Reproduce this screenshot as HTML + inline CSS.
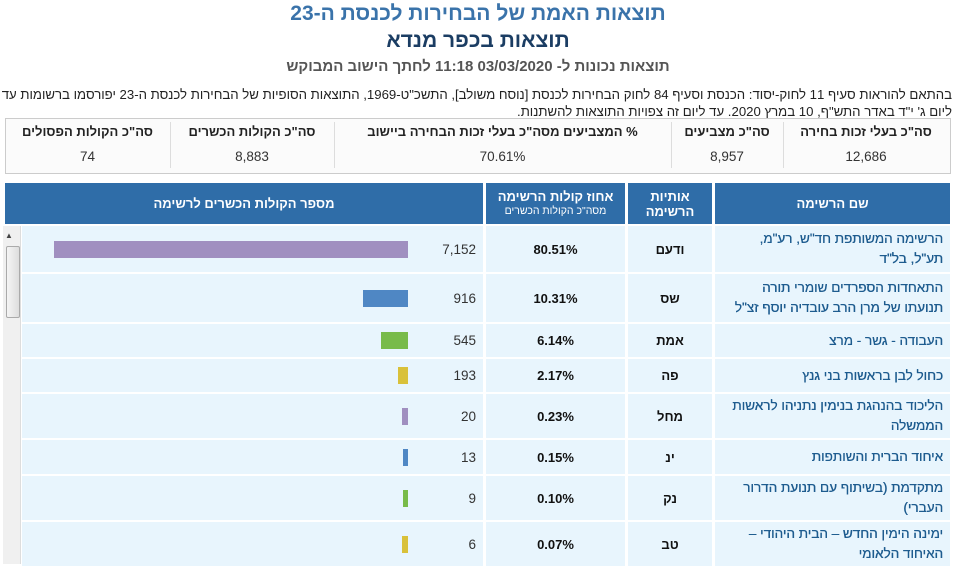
<!DOCTYPE html>
<html><head><meta charset="utf-8"><style>
body{margin:0;width:956px;height:564px;overflow:hidden;background:#fff;font-family:"Liberation Sans","Noto Sans CJK SC",sans-serif;position:relative}
.a{position:absolute}
.t1{left:0;width:956px;top:2px;text-align:center;font-size:21px;font-weight:bold;color:#3a73aa}
.t2{left:0;width:956px;top:29px;text-align:center;font-size:21px;font-weight:bold;color:#1b3d63}
.t3{left:0;width:956px;top:58px;text-align:center;font-size:15px;font-weight:bold;color:#555}
.p{right:4px;top:86px;width:952px;direction:rtl;font-size:13.2px;line-height:17px;color:#222}
.box{left:5px;top:118px;width:944px;height:54px;border:1px solid #ccc;background:#fbfbfb}
.sh{font-size:13px;font-weight:bold;color:#222;text-align:center;top:124px}
.sv{font-size:13.5px;color:#333;text-align:center;top:149px}
.sep{top:122px;width:1px;height:46px;background:#ddd}
.hd{background:#2f6da8;color:#fff;font-weight:bold;text-align:center;top:183px;height:41px;direction:rtl;display:flex;align-items:center;justify-content:center;flex-direction:column;font-size:13px;line-height:15px}
.cell{background:#e8f5fd}
.nm{direction:rtl;text-align:right;color:#1e5c8f;font-size:13.5px;white-space:nowrap;line-height:20px;right:13px;width:225px;display:flex;align-items:center;text-shadow:0.3px 0 0 #1e5c8f}
.lt{text-align:center;font-weight:bold;font-size:13px;color:#111;left:628px;width:84px;display:flex;align-items:center;justify-content:center;direction:rtl}
.pc{text-align:center;font-weight:bold;font-size:13px;color:#111;left:486px;width:139px;display:flex;align-items:center;justify-content:center}
.nv{text-align:right;font-size:13.5px;color:#333;left:420px;width:56px;display:flex;align-items:center;justify-content:flex-end}
.bar{height:17px}
</style></head><body>
<div class="a t1">תוצאות האמת של הבחירות לכנסת ה-23</div>
<div class="a t2">תוצאות בכפר מנדא</div>
<div class="a t3">תוצאות נכונות ל- 03/03/2020 11:18 לחתך הישוב המבוקש</div>
<div class="a p">בהתאם להוראות סעיף 11 לחוק-יסוד: הכנסת וסעיף 84 לחוק הבחירות לכנסת [נוסח משולב], התשכ"ט-1969, התוצאות הסופיות של הבחירות לכנסת ה-23 יפורסמו ברשומות עד ליום ג' י"ד באדר התש"ף, 10 במרץ 2020. עד ליום זה צפויות התוצאות להשתנות.</div>
<div class="a box"></div>
<div class="a sep" style="left:170px"></div><div class="a sep" style="left:334px"></div><div class="a sep" style="left:671px"></div><div class="a sep" style="left:783px"></div>
<div class="a sh" style="left:783px;width:166px">סה"כ בעלי זכות בחירה</div>
<div class="a sh" style="left:671px;width:112px">סה"כ מצביעים</div>
<div class="a sh" style="left:334px;width:337px;direction:rtl">% המצביעים מסה"כ בעלי זכות הבחירה ביישוב</div>
<div class="a sh" style="left:170px;width:164px">סה"כ הקולות הכשרים</div>
<div class="a sh" style="left:5px;width:165px">סה"כ הקולות הפסולים</div>
<div class="a sv" style="left:783px;width:166px">12,686</div>
<div class="a sv" style="left:671px;width:112px">8,957</div>
<div class="a sv" style="left:334px;width:337px">70.61%</div>
<div class="a sv" style="left:170px;width:164px">8,883</div>
<div class="a sv" style="left:5px;width:165px">74</div>

<div class="a hd" style="left:5px;width:478px">מספר הקולות הכשרים לרשימה</div>
<div class="a hd" style="left:486px;width:139px"><span>אחוז קולות הרשימה</span><span style="font-size:10.5px;font-weight:normal">מסה"כ הקולות הכשרים</span></div>
<div class="a hd" style="left:628px;width:84px"><span>אותיות</span><span>הרשימה</span></div>
<div class="a hd" style="left:715px;width:235px">שם הרשימה</div>

<div class="a" style="left:3px;top:226px;width:17px;height:338px;background:#f0f0f0;border-right:1px solid #ddd"></div>
<div class="a" style="left:5px;top:231px;font-size:8px;color:#444">▲</div>
<div class="a" style="left:6px;top:246px;width:12px;height:70px;background:linear-gradient(90deg,#f5f5f5,#ddd);border:1px solid #aaa;border-radius:2px"></div>

<div id="rows"></div>
<script>
var R=[[226,46,"הרשימה המשותפת חד\"ש, רע\"מ,<br>תע\"ל, בל\"ד","ודעם","80.51%","7,152",354,"#a08fc0"],
[274,48,"התאחדות הספרדים שומרי תורה<br>תנועתו של מרן הרב עובדיה יוסף זצ\"ל","שס","10.31%","916",45,"#4f87c4"],
[324,33,"העבודה - גשר - מרצ","אמת","6.14%","545",27,"#78bb4a"],
[359,33,"כחול לבן בראשות בני גנץ","פה","2.17%","193",10,"#d9c13a"],
[394,44,"הליכוד בהנהגת בנימין נתניהו לראשות<br>הממשלה","מחל","0.23%","20",6,"#a08fc0"],
[440,34,"איחוד הברית והשותפות","ינ","0.15%","13",5,"#4f87c4"],
[476,44,"מתקדמת (בשיתוף עם תנועת הדרור<br>העברי)","נק","0.10%","9",5,"#78bb4a"],
[522,44,"ימינה הימין החדש – הבית היהודי –<br>האיחוד הלאומי","טב","0.07%","6",6,"#d9c13a"]];
var h="";R.forEach(function(r){var t=r[0],H=r[1],s="top:"+t+"px;height:"+H+"px;";
h+='<div class="a cell" style="left:22px;width:461px;'+s+'"></div>';
h+='<div class="a cell" style="left:486px;width:139px;'+s+'"></div>';
h+='<div class="a cell" style="left:628px;width:84px;'+s+'"></div>';
h+='<div class="a cell" style="left:715px;width:235px;'+s+'"></div>';
h+='<div class="a nm" style="'+s+'"><div>'+r[2]+'</div></div>';
h+='<div class="a lt" style="'+s+'">'+r[3]+'</div>';
h+='<div class="a pc" style="'+s+'">'+r[4]+'</div>';
h+='<div class="a nv" style="'+s+'">'+r[5]+'</div>';
h+='<div class="a bar" style="left:'+(408-r[6])+'px;width:'+r[6]+'px;top:'+(t+Math.round((H-17)/2))+'px;background:'+r[7]+'"></div>';});
document.getElementById("rows").innerHTML=h;
</script>
</body></html>
